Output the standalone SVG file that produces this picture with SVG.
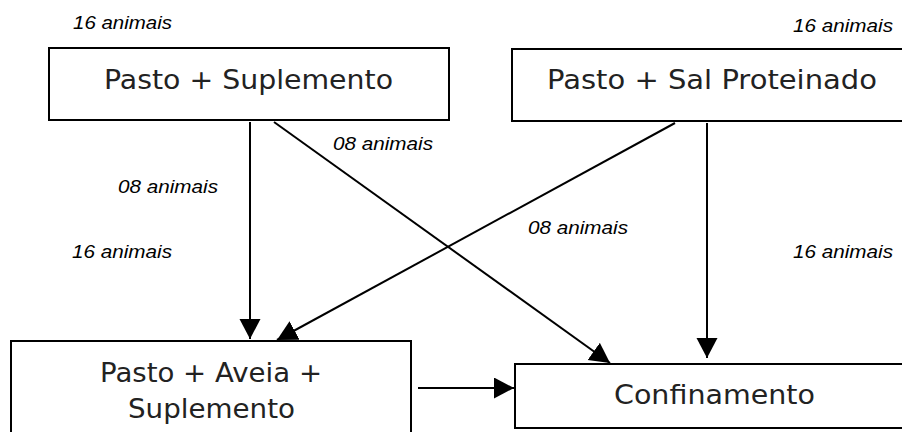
<svg xmlns="http://www.w3.org/2000/svg" width="902" height="432" viewBox="0 0 902 432">
<style>
.box{fill:#fff;stroke:#000;stroke-width:2}
.bt{font-family:"DejaVu Sans",Verdana,sans-serif;font-size:26px;fill:#222}
.lb{font-family:"Liberation Sans",Arial,sans-serif;font-size:19px;font-style:italic;fill:#000}
.cn{stroke:#000;stroke-width:2;fill:none;marker-end:url(#ah)}
</style>
<defs>
<marker id="ah" markerUnits="userSpaceOnUse" markerWidth="22" markerHeight="22" refX="20" refY="10.5" orient="auto" viewBox="0 0 22 22">
<path d="M0,0 L20,10.5 L0,21 z" fill="#000"/>
</marker>
</defs>
<rect width="902" height="432" fill="#fff"/>
<g id="connectors">
<line class="cn" x1="250" y1="122" x2="250" y2="339"/>
<line class="cn" x1="274" y1="122" x2="610" y2="363"/>
<line class="cn" x1="675" y1="123" x2="277" y2="340"/>
<line class="cn" x1="707" y1="123" x2="707" y2="358"/>
<line class="cn" x1="418" y1="388" x2="514" y2="388"/>
</g>
<g id="node-pasto-suplemento">
<rect class="box" x="49" y="48" width="400" height="72"/>
<text class="bt" x="104" y="89" textLength="289" lengthAdjust="spacingAndGlyphs">Pasto + Suplemento</text>
</g>
<g id="node-pasto-sal">
<rect class="box" x="512" y="49" width="420" height="72"/>
<text class="bt" x="547" y="89" textLength="330" lengthAdjust="spacingAndGlyphs">Pasto + Sal Proteinado</text>
</g>
<g id="node-pasto-aveia">
<rect class="box" x="11" y="341" width="400" height="110"/>
<text class="bt" x="100" y="382" textLength="222" lengthAdjust="spacingAndGlyphs">Pasto + Aveia +</text>
<text class="bt" x="128" y="418" textLength="167" lengthAdjust="spacingAndGlyphs">Suplemento</text>
</g>
<g id="node-confinamento">
<rect class="box" x="515" y="364" width="420" height="64"/>
<text class="bt" x="614" y="404" textLength="201" lengthAdjust="spacingAndGlyphs">Confinamento</text>
</g>
<g id="labels">
<text class="lb" x="73" y="29" textLength="99" lengthAdjust="spacingAndGlyphs">16 animais</text>
<text class="lb" x="793" y="32" textLength="100" lengthAdjust="spacingAndGlyphs">16 animais</text>
<text class="lb" x="333" y="150" textLength="100" lengthAdjust="spacingAndGlyphs">08 animais</text>
<text class="lb" x="118" y="193" textLength="100" lengthAdjust="spacingAndGlyphs">08 animais</text>
<text class="lb" x="72" y="258" textLength="100" lengthAdjust="spacingAndGlyphs">16 animais</text>
<text class="lb" x="528" y="234" textLength="100" lengthAdjust="spacingAndGlyphs">08 animais</text>
<text class="lb" x="793" y="258" textLength="100" lengthAdjust="spacingAndGlyphs">16 animais</text>
</g>
</svg>
